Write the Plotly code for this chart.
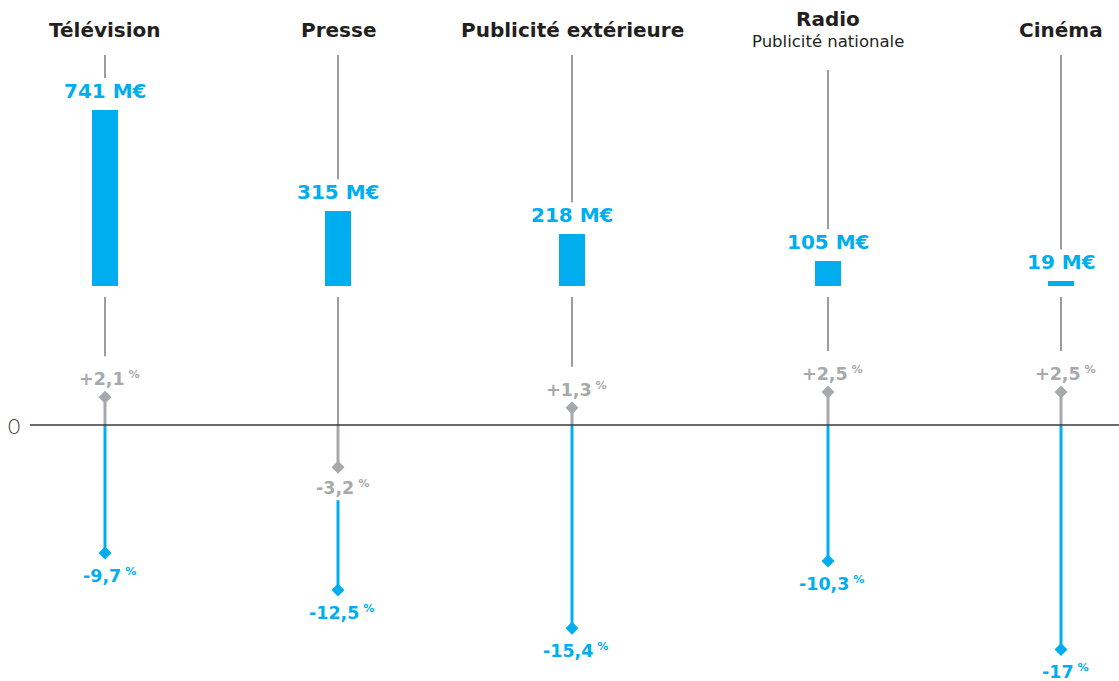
import plotly.graph_objects as go

# ---- data -------------------------------------------------------------
media = ["Télévision", "Presse", "Publicité extérieure", "Radio", "Cinéma"]
media_sub = ["", "", "", "Publicité nationale", ""]
revenue_meur = [741, 315, 218, 105, 19]           # M€
change_gray = [2.1, -3.2, 1.3, 2.5, 2.5]            # %
change_blue = [-9.7, -12.5, -15.4, -10.3, -17.0]    # %

# ---- layout constants (pixels) -----------------------------------------
W, H = 1119, 681
col_x = [105, 338, 572, 828, 1061]     # column centres on the x axis
PCT_ZERO_PX, PCT_SCALE = 425, 13.2     # y of 0 %, px per %
EUR_BASE_PX, EUR_SCALE = 286, 0.2375   # y of bar base, px per M€
BAR_W = 26

BLUE = "#00AEEF"
GRAY = "#A7A9AC"
DARK = "#231F20"
LINE = "#3a3a3a"
FONT = "DejaVu Sans"

pct_range = [-(H - PCT_ZERO_PX) / PCT_SCALE, PCT_ZERO_PX / PCT_SCALE]
eur_range = [-(H - EUR_BASE_PX) / EUR_SCALE, EUR_BASE_PX / EUR_SCALE]


def pct_px(v):
    return PCT_ZERO_PX - v * PCT_SCALE


def eur_px(v):
    return EUR_BASE_PX - v * EUR_SCALE


def paper(px):
    return 1 - px / H


def fmt(v):
    s = f"{v:+.1f}".replace(".", ",")
    if s.endswith(",0"):
        s = s[:-2]
    return s


def pct_text(v):
    return (f"<b>{fmt(v)}</b><span style='font-size:16px'>"
            f"<sup><b> %</b></sup></span>")


fig = go.Figure()

# bars (M€)
fig.add_trace(go.Bar(
    x=col_x, y=revenue_meur, width=BAR_W, yaxis="y2",
    marker=dict(color=BLUE, line=dict(width=0)),
    hoverinfo="skip", showlegend=False,
))

# stems
for i, xc in enumerate(col_x):
    g, b = change_gray[i], change_blue[i]
    fig.add_trace(go.Scatter(
        x=[xc, xc], y=[0, g], mode="lines",
        line=dict(color=GRAY, width=3), hoverinfo="skip", showlegend=False,
    ))
    blue_start = 0 if g > 0 else g - 33 / PCT_SCALE
    fig.add_trace(go.Scatter(
        x=[xc, xc], y=[blue_start, b], mode="lines",
        line=dict(color=BLUE, width=3), hoverinfo="skip", showlegend=False,
    ))

# markers
fig.add_trace(go.Scatter(
    x=col_x, y=change_gray, mode="markers",
    marker=dict(symbol="diamond", size=10, color=GRAY),
    hoverinfo="skip", showlegend=False,
))
fig.add_trace(go.Scatter(
    x=col_x, y=change_blue, mode="markers",
    marker=dict(symbol="diamond", size=10, color=BLUE),
    hoverinfo="skip", showlegend=False,
))

shapes = []
# zero line
shapes.append(dict(type="line", xref="x", yref="y", x0=30, x1=W, y0=0, y1=0,
                   line=dict(color=LINE, width=1.3), layer="above"))

annotations = []
for i, xc in enumerate(col_x):
    has_sub = bool(media_sub[i])
    title_bottom = 70 if has_sub else 55
    bar_top = eur_px(revenue_meur[i])
    # connector above the value label
    shapes.append(dict(type="line", xref="x", yref="paper", x0=xc, x1=xc,
                       y0=paper(title_bottom), y1=paper(bar_top - 32),
                       line=dict(color=LINE, width=1), layer="below"))
    # connector below the bar
    g = change_gray[i]
    end_px = pct_px(g) - 41 if g > 0 else PCT_ZERO_PX
    shapes.append(dict(type="line", xref="x", yref="paper", x0=xc, x1=xc,
                       y0=paper(EUR_BASE_PX + 11), y1=paper(end_px),
                       line=dict(color=LINE, width=1), layer="below"))

    # titles
    if has_sub:
        annotations.append(dict(x=xc, y=paper(19), xref="x", yref="paper",
                                text="<b>" + media[i] + "</b>", showarrow=False,
                                font=dict(family=FONT, size=20, color=DARK),
                                yanchor="middle"))
        annotations.append(dict(x=xc, y=paper(41), xref="x", yref="paper",
                                text=media_sub[i], showarrow=False,
                                font=dict(family=FONT, size=16.5, color=DARK),
                                yanchor="middle"))
    else:
        annotations.append(dict(x=xc, y=paper(30), xref="x", yref="paper",
                                text="<b>" + media[i] + "</b>", showarrow=False,
                                font=dict(family=FONT, size=20, color=DARK),
                                yanchor="middle"))

    # value labels
    annotations.append(dict(x=xc, y=revenue_meur[i], xref="x", yref="y2",
                            text=f"<b>{revenue_meur[i]} M€</b>", showarrow=False,
                            font=dict(family=FONT, size=20, color=BLUE),
                            yanchor="bottom", yshift=5))

    # gray change labels
    annotations.append(dict(x=xc, y=g, xref="x", yref="y",
                            text=pct_text(g), showarrow=False,
                            font=dict(family=FONT, size=17.5, color=GRAY),
                            yanchor="bottom" if g > 0 else "top",
                            yshift=6 if g > 0 else -8, xshift=4))
    # blue change labels
    b = change_blue[i]
    annotations.append(dict(x=xc, y=b, xref="x", yref="y",
                            text=pct_text(b), showarrow=False,
                            font=dict(family=FONT, size=17.5, color=BLUE),
                            yanchor="top", yshift=-10, xshift=4))

# "0" label for the change axis
annotations.append(dict(x=14, y=0, xref="x", yref="y", text="0", showarrow=False,
                        font=dict(family="Lato", size=21, color=LINE, weight=300),
                        yanchor="middle"))

fig.update_layout(
    width=W, height=H,
    margin=dict(l=0, r=0, t=0, b=0),
    paper_bgcolor="white", plot_bgcolor="white",
    xaxis=dict(range=[0, W], visible=False, fixedrange=True),
    yaxis=dict(range=pct_range, visible=False, fixedrange=True),
    yaxis2=dict(range=eur_range, visible=False, overlaying="y", fixedrange=True),
    shapes=shapes,
    annotations=annotations,
    showlegend=False,
    bargap=0,
)

fig.write_html("out.html", config={"displayModeBar": False})
